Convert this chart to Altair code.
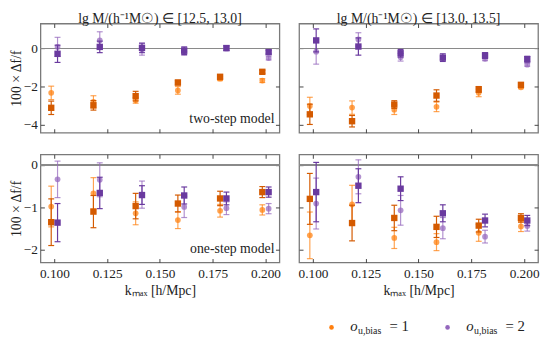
import altair as alt
import pandas as pd

# ---------------- data ----------------
k_values = [0.10, 0.12, 0.14, 0.16, 0.18, 0.20]
x_ticks = [0.100, 0.125, 0.150, 0.175, 0.200]
top_y_ticks = [0, -2, -4]
bot_y_ticks = [0, -1, -2]

panel_titles = ["lg M/(h⁻¹M☉) ∈ [12.5, 13.0]", "lg M/(h⁻¹M☉) ∈ [13.0, 13.5]"]
model_notes = ["two-step model", "one-step model"]
legend_keys = ["1", "2"]

# two-step model, lgM in [12.5, 13.0]
tl_o1_circle_y = [-2.32, -2.79, -2.71, -2.19, -1.58, -1.68]
tl_o1_circle_err = [0.35, 0.32, 0.15, 0.20, 0.10, 0.10]
tl_o1_square_y = [-3.10, -2.97, -2.49, -1.78, -1.48, -1.22]
tl_o1_square_err = [0.35, 0.25, 0.25, 0.12, 0.10, 0.08]
tl_o2_circle_y = [0.08, 0.42, -0.05, -0.15, 0.00, -0.50]
tl_o2_circle_err = [0.50, 0.45, 0.30, 0.20, 0.12, 0.10]
tl_o2_square_y = [-0.28, 0.08, 0.03, -0.12, 0.02, -0.19]
tl_o2_square_err = [0.45, 0.30, 0.25, 0.20, 0.12, 0.10]

# two-step model, lgM in [13.0, 13.5]
tr_o1_circle_y = [-3.00, -3.09, -3.20, -3.05, -2.32, -2.03]
tr_o1_circle_err = [0.45, 0.35, 0.25, 0.25, 0.20, 0.07]
tr_o1_square_y = [-3.44, -3.80, -2.93, -2.46, -2.14, -1.90]
tr_o1_square_err = [0.53, 0.30, 0.20, 0.30, 0.15, 0.10]
tr_o2_circle_y = [-0.17, 0.47, -0.46, -0.50, -0.54, -0.85]
tr_o2_circle_err = [0.65, 0.35, 0.20, 0.10, 0.10, 0.08]
tr_o2_square_y = [0.42, 0.10, -0.25, -0.48, -0.37, -0.56]
tr_o2_square_err = [0.60, 0.45, 0.20, 0.20, 0.15, 0.15]

# one-step model, lgM in [12.5, 13.0]
bl_o1_circle_y = [-0.98, -0.67, -1.14, -1.30, -1.08, -1.06]
bl_o1_circle_err = [0.48, 0.37, 0.27, 0.20, 0.15, 0.12]
bl_o1_square_y = [-1.35, -1.10, -0.97, -0.91, -0.79, -0.64]
bl_o1_square_err = [0.55, 0.38, 0.30, 0.20, 0.17, 0.13]
bl_o2_circle_y = [-0.34, -0.35, -0.70, -0.99, -1.02, -1.03]
bl_o2_circle_err = [0.43, 0.40, 0.32, 0.25, 0.15, 0.12]
bl_o2_square_y = [-1.36, -0.66, -0.71, -0.72, -0.79, -0.64]
bl_o2_square_err = [0.45, 0.37, 0.22, 0.20, 0.15, 0.12]

# one-step model, lgM in [13.0, 13.5]
br_o1_circle_y = [-1.66, -0.93, -1.72, -1.82, -1.60, -1.45]
br_o1_circle_err = [0.55, 0.45, 0.25, 0.20, 0.20, 0.12]
br_o1_square_y = [-0.80, -1.37, -1.25, -1.46, -1.43, -1.25]
br_o1_square_err = [0.60, 0.42, 0.30, 0.25, 0.15, 0.10]
br_o2_circle_y = [-0.91, -0.28, -1.07, -1.49, -1.69, -1.44]
br_o2_circle_err = [0.60, 0.40, 0.35, 0.25, 0.15, 0.12]
br_o2_square_y = [-0.64, -0.49, -0.56, -1.14, -1.31, -1.31]
br_o2_square_err = [0.70, 0.40, 0.28, 0.20, 0.15, 0.12]

# ---------------- table ----------------
DODGE = {"1": -0.0015, "2": 0.0015}
series_def = [
    ("tl", "1", "circle", tl_o1_circle_y, tl_o1_circle_err),
    ("tl", "1", "square", tl_o1_square_y, tl_o1_square_err),
    ("tl", "2", "circle", tl_o2_circle_y, tl_o2_circle_err),
    ("tl", "2", "square", tl_o2_square_y, tl_o2_square_err),
    ("tr", "1", "circle", tr_o1_circle_y, tr_o1_circle_err),
    ("tr", "1", "square", tr_o1_square_y, tr_o1_square_err),
    ("tr", "2", "circle", tr_o2_circle_y, tr_o2_circle_err),
    ("tr", "2", "square", tr_o2_square_y, tr_o2_square_err),
    ("bl", "1", "circle", bl_o1_circle_y, bl_o1_circle_err),
    ("bl", "1", "square", bl_o1_square_y, bl_o1_square_err),
    ("bl", "2", "circle", bl_o2_circle_y, bl_o2_circle_err),
    ("bl", "2", "square", bl_o2_square_y, bl_o2_square_err),
    ("br", "1", "circle", br_o1_circle_y, br_o1_circle_err),
    ("br", "1", "square", br_o1_square_y, br_o1_square_err),
    ("br", "2", "circle", br_o2_circle_y, br_o2_circle_err),
    ("br", "2", "square", br_o2_square_y, br_o2_square_err),
]
rows = []
for pan, ob, var, ys_, es_ in series_def:
    for k, yv, ev in zip(k_values, ys_, es_):
        rows.append(dict(panel=pan, obias=ob, variant=var, series=ob + var,
                         k=k, x=k + DODGE[ob], y=yv, lo=yv - ev, hi=yv + ev))
df = pd.DataFrame(rows)

SERIES_DOM = ["1circle", "2circle", "1square", "2square"]
SERIES_RNG = ["#ff7f0e", "#9467bd", "#d45a00", "#6a3a9f"]
LEGEND_COLORS = ["#ff7f0e", "#9467bd"]

FONT = "Liberation Serif"
TXT = "#222222"
W, H_TOP, H_BOT = 243, 111, 110
X_DOM = [0.0934, 0.2066]


def panel(key, ydom, yticks, left, bottom, title=None, note=None, legend=False):
    H = H_TOP if key[0] == "t" else H_BOT
    d = df[df.panel == key]
    xs = alt.Scale(domain=X_DOM, nice=False, zero=False)
    ys = alt.Scale(domain=ydom, nice=False, zero=False)
    color = alt.Color("series:N", scale=alt.Scale(domain=SERIES_DOM, range=SERIES_RNG), legend=None)
    base = alt.Chart(d)
    layers = [
        base.mark_rule(color="#8a8a8a", strokeWidth=1.1).encode(
            y=alt.datum(0, scale=ys, axis=None))
    ]
    for var, shape, size, op in [("circle", "circle", 34, 0.72), ("square", "square", 42, 1.0)]:
        sub = base.transform_filter(alt.datum.variant == var)
        xe = alt.X("x:Q", scale=xs, axis=None)
        layers.append(sub.mark_rule(strokeWidth=1.2, opacity=op).encode(
            x=xe, y=alt.Y("lo:Q", scale=ys, axis=None), y2="hi:Q", color=color))
        for f in ["lo", "hi"]:
            layers.append(sub.mark_tick(orient="horizontal", size=6, thickness=1.2, opacity=op).encode(
                x=xe, y=alt.Y(f + ":Q", scale=ys, axis=None), color=color))
        layers.append(sub.mark_point(shape=shape, filled=True, size=size, opacity=op).encode(
            x=xe, y=alt.Y("y:Q", scale=ys, axis=None), color=color))

    # main labelled axes
    if left or bottom:
        if bottom:
            xa = alt.Axis(orient="bottom", values=x_ticks, format=".3f", ticks=False, domain=False,
                          labelPadding=4, title="kₘₐₓ [h/Mpc]", titlePadding=4)
        else:
            xa = None
        if left:
            ya = alt.Axis(orient="left", values=yticks, format="d", ticks=False, domain=False,
                          labelPadding=3, title="100 × Δf/f", titlePadding=0)
        else:
            ya = None
        layers.append(base.mark_point(opacity=0).encode(
            x=alt.X("x:Q", scale=xs, axis=xa), y=alt.Y("y:Q", scale=ys, axis=ya)))
    # inward ticks on all four sides
    tick_kw = dict(labels=False, domain=False, tickSize=4, tickColor="#444444", tickWidth=1, title=None)
    layers.append(base.mark_point(opacity=0).encode(
        x=alt.X("x:Q", scale=xs, axis=alt.Axis(orient="top", offset=-H, values=x_ticks, **tick_kw)),
        y=alt.Y("y:Q", scale=ys, axis=alt.Axis(orient="right", offset=-W, values=yticks, **tick_kw))))
    layers.append(base.mark_point(opacity=0).encode(
        x=alt.X("x:Q", scale=xs, axis=alt.Axis(orient="bottom", offset=-H, values=x_ticks, **tick_kw)),
        y=alt.Y("y:Q", scale=ys, axis=alt.Axis(orient="left", offset=-W, values=yticks, **tick_kw))))

    if note:
        layers.append(alt.Chart(pd.DataFrame({"t": [note]})).mark_text(
            align="right", baseline="middle", font=FONT, fontSize=14, color=TXT).encode(
            text="t:N", x=alt.value(W - 5), y=alt.value(H - 14)))

    if legend:
        for i, (lk, lc) in enumerate(zip(legend_keys, LEGEND_COLORS)):
            x0 = 33 + 118 * i
            ly = H + 66
            ld = alt.Chart(pd.DataFrame({"k": [lk]}))
            layers.append(ld.mark_point(shape="circle", filled=True, size=22, opacity=1, color=lc).encode(
                x=alt.value(x0), y=alt.value(ly)))
            layers.append(ld.mark_text(align="left", baseline="alphabetic", font=FONT, fontSize=15,
                                       fontStyle="italic", color=TXT).encode(
                text=alt.value("o"), x=alt.value(x0 + 19), y=alt.value(ly + 4)))
            layers.append(ld.mark_text(align="left", baseline="alphabetic", font=FONT, fontSize=10,
                                       color=TXT).encode(
                text=alt.value("u,bias"), x=alt.value(x0 + 27), y=alt.value(ly + 7)))
            layers.append(ld.mark_text(align="left", baseline="alphabetic", font=FONT, fontSize=15,
                                       color=TXT).encode(
                text="lab:N", x=alt.value(x0 + 59), y=alt.value(ly + 4)).transform_calculate(
                lab="'= ' + datum.k"))

    ch = alt.layer(*layers).resolve_axis(x="independent", y="independent").properties(width=W, height=H)
    if title:
        ch = ch.properties(title=alt.TitleParams(title, font=FONT, fontSize=14, fontWeight="normal",
                                                  color=TXT, offset=-3))
    return ch


TOP_DOM = [-4.4, 1.3]
BOT_DOM = [-2.3, 0.25]
tl = panel("tl", TOP_DOM, top_y_ticks, True, False, title=panel_titles[0], note=model_notes[0])
tr = panel("tr", TOP_DOM, top_y_ticks, False, False, title=panel_titles[1])
bl = panel("bl", BOT_DOM, bot_y_ticks, True, True, note=model_notes[1])
br = panel("br", BOT_DOM, bot_y_ticks, False, True, legend=True)

chart = alt.vconcat(
    alt.hconcat(tl, tr, spacing=16),
    alt.hconcat(bl, br, spacing=16),
    spacing=18,
).properties(padding=0).configure_view(
    stroke="#7a7a7a", strokeWidth=1.3
).configure_axis(
    grid=False, labelFont=FONT, labelFontSize=13.5, labelColor=TXT,
    titleFont=FONT, titleFontSize=14, titleFontWeight="normal", titleColor=TXT
)

chart.save("out.html", embed_options={"renderer": "svg", "actions": False})
